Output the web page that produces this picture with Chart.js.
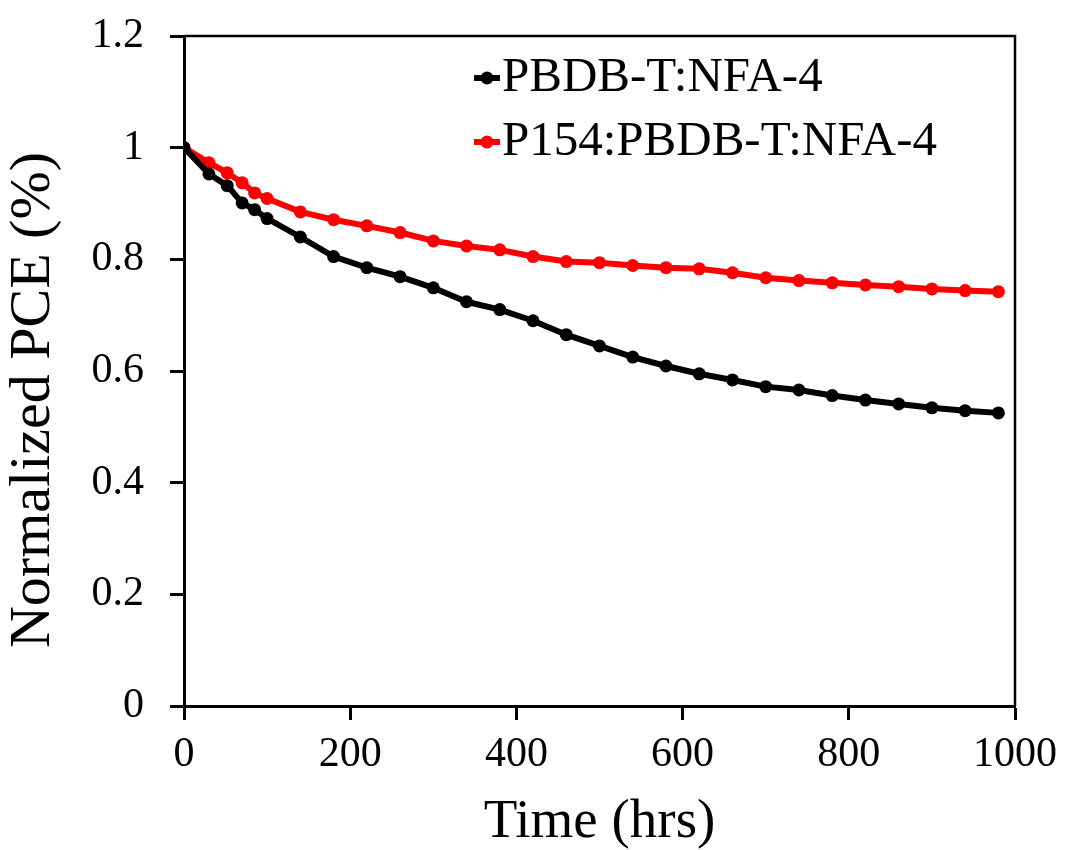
<!DOCTYPE html>
<html>
<head>
<meta charset="utf-8">
<script src="https://cdn.jsdelivr.net/npm/chart.js@4.4.1/dist/chart.umd.min.js"></script>
<style>
  html, body { margin: 0; padding: 0; background: #ffffff; }
  #wrap { width: 1065px; height: 850px; }
</style>
</head>
<body>
<div id="wrap"><canvas id="c" width="1065" height="850"></canvas></div>
<script>
// ---- data ----
const hours = [0, 30, 52, 70, 85, 100, 140, 180, 220, 260, 300, 340, 380, 420, 460, 500, 540, 580, 620, 660, 700, 740, 780, 820, 860, 900, 940, 980];
const pceControl = [1.0, 0.953, 0.932, 0.901, 0.889, 0.873, 0.840, 0.805, 0.785, 0.769, 0.749, 0.724, 0.710, 0.690, 0.665, 0.645, 0.625, 0.609, 0.595, 0.584, 0.572, 0.566, 0.556, 0.548, 0.541, 0.534, 0.529, 0.525];
const pceP154 = [1.0, 0.973, 0.955, 0.937, 0.919, 0.909, 0.885, 0.871, 0.860, 0.848, 0.833, 0.824, 0.817, 0.805, 0.796, 0.794, 0.789, 0.785, 0.783, 0.776, 0.767, 0.762, 0.758, 0.754, 0.751, 0.747, 0.744, 0.742];
const seriesLabels = ['PBDB-T:NFA-4', 'P154:PBDB-T:NFA-4'];
const seriesColors = ['#000000', '#ff0000'];
const xTickValues = [0, 200, 400, 600, 800, 1000];
const yTickValues = [0, 0.2, 0.4, 0.6, 0.8, 1, 1.2];
const xTitle = 'Time (hrs)';
const yTitle = 'Normalized PCE (%)';

const FONT = "'Liberation Serif', 'Times New Roman', serif";

const toPoints = (xs, ys) => xs.map((x, i) => ({ x: x, y: ys[i] }));

const frameAndLegend = {
  id: 'frameAndLegend',
  afterDatasetsDraw(chart) {
    const { ctx, chartArea: a } = chart;
    ctx.save();
    // top and right frame lines
    ctx.strokeStyle = '#000';
    ctx.lineWidth = 2.5;
    ctx.beginPath();
    ctx.moveTo(a.left, a.top);
    ctx.lineTo(a.right, a.top);
    ctx.lineTo(a.right, a.bottom);
    ctx.stroke();
    // legend inside the plot
    const x0 = 474, x1 = 500;
    const ys = [78, 142];
    ctx.font = "49px " + FONT;
    ctx.textBaseline = 'middle';
    ctx.textAlign = 'left';
    chart.data.datasets.forEach((ds, i) => {
      const y = ys[i];
      ctx.strokeStyle = ds.borderColor;
      ctx.lineWidth = 6;
      ctx.beginPath();
      ctx.moveTo(x0, y);
      ctx.lineTo(x1, y);
      ctx.stroke();
      ctx.fillStyle = ds.borderColor;
      ctx.beginPath();
      ctx.arc((x0 + x1) / 2, y, 6.5, 0, Math.PI * 2);
      ctx.fill();
      ctx.fillStyle = '#000';
      ctx.fillText(ds.label, x1 + 2, y);
    });
    ctx.restore();
  }
};

const axisCommon = {
  border: { display: true, color: '#000', width: 3 },
  grid: { display: true, drawOnChartArea: false, drawTicks: true, tickLength: 14, tickWidth: 3, tickColor: '#000' }
};

new Chart(document.getElementById('c'), {
  type: 'line',
  data: {
    datasets: [
      {
        label: seriesLabels[0],
        data: toPoints(hours, pceControl),
        borderColor: seriesColors[0],
        backgroundColor: seriesColors[0],
        pointBackgroundColor: seriesColors[0],
        borderWidth: 6,
        pointRadius: 6.5,
        pointBorderWidth: 0,
        tension: 0
      },
      {
        label: seriesLabels[1],
        data: toPoints(hours, pceP154),
        borderColor: seriesColors[1],
        backgroundColor: seriesColors[1],
        pointBackgroundColor: seriesColors[1],
        borderWidth: 6,
        pointRadius: 6.5,
        pointBorderWidth: 0,
        tension: 0
      }
    ]
  },
  options: {
    responsive: false,
    animation: false,
    devicePixelRatio: 1,
    layout: { padding: { top: 36, right: 50, bottom: 0, left: 0 } },
    plugins: {
      legend: { display: false },
      tooltip: { enabled: false }
    },
    scales: {
      x: Object.assign({}, axisCommon, {
        type: 'linear',
        min: 0,
        max: 1000,
        afterFit(scale) {
          scale.height = 144;
          scale.paddingLeft = 0; scale.paddingRight = 0;
        },
        afterBuildTicks(scale) { scale.ticks = xTickValues.map(v => ({ value: v })); },
        ticks: {
          color: '#000', font: { family: FONT, size: 42 }, padding: 10, maxRotation: 0, autoSkip: false,
          callback: v => String(v)
        },
        title: { display: true, text: xTitle, color: '#000', font: { family: FONT, size: 55, lineHeight: 1 }, padding: 0 }
      }),
      y: Object.assign({}, axisCommon, {
        type: 'linear',
        min: 0,
        max: 1.2,
        afterFit(scale) {
          scale.width = 184;
          scale.paddingTop = 0; scale.paddingBottom = 0;
        },
        afterBuildTicks(scale) { scale.ticks = yTickValues.map(v => ({ value: v })); },
        ticks: {
          color: '#000', font: { family: FONT, size: 42 }, padding: 26, autoSkip: false,
          callback: v => String(Math.round(v * 10) / 10)
        },
        title: { display: true, text: yTitle + '    ', color: '#000', font: { family: FONT, size: 58, lineHeight: 1 }, padding: { top: 5, bottom: 0 } }
      })
    }
  },
  plugins: [frameAndLegend]
});
</script>
</body>
</html>
